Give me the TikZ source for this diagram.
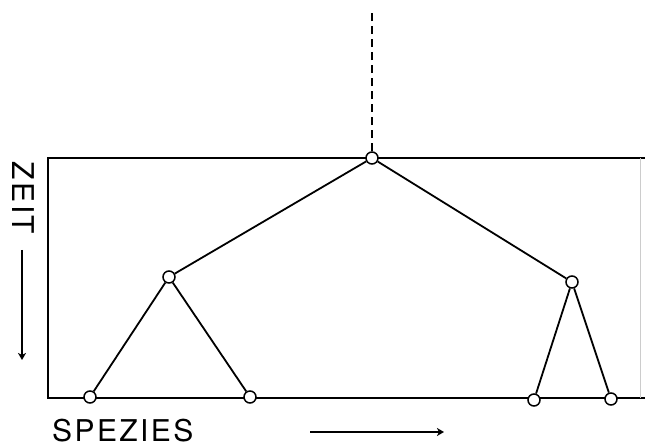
\documentclass[tikz,border=0pt]{standalone}
\usepackage{fontspec}
\usetikzlibrary{arrows.meta}
\newfontfamily\labelfont[LetterSpace=8]{TeX Gyre Heros}

\begin{document}
\begin{tikzpicture}[x=1pt,y=-1pt,>={Stealth[length=7pt,width=8pt,inset=2pt]},
  knot/.style={circle,draw,fill=white,line width=1.5pt,inner sep=0pt,minimum size=12pt},
  branch/.style={line width=1.8pt},
  frame/.style={line width=2.1pt},
  axislabel/.style={font=\labelfont\fontsize{30}{33}\selectfont,inner sep=0pt}]
\useasboundingbox (0,0) rectangle (645,446);
% Rahmen
\draw[frame] (645,158) -- (48,158) -- (48,398) -- (645,398);
\draw[black!20,thin] (640,158) -- (640,398);
% Baum
\coordinate (top) at (372,10);
\node[knot] (r) at (372,158) {};
\node[knot] (a) at (169,277) {};
\node[knot] (b) at (572,282) {};
\node[knot] (a1) at (90,397) {};
\node[knot] (a2) at (250,397) {};
\node[knot] (b1) at (534,400) {};
\node[knot] (b2) at (611,399) {};
\draw[branch,dashed,dash pattern=on 8pt off 5pt] (r) -- (top);
\draw[branch] (a) -- (r) -- (b);
\foreach \p/\c in {a/a1,a/a2,b/b1,b/b2} { \draw[branch] (\p) -- (\c); }
% Achsen
\node[axislabel,rotate=-90] (zeit) at (23,198) {ZEIT};
\coordinate (zeitend) at (22,360);
\draw[line width=1.6pt,->] (22,250) -- (zeitend);
\node[axislabel,anchor=base west] (spezies) at (52,441) {SPEZIES};
\coordinate (speziesend) at (444,432);
\draw[line width=1.6pt,->] (310,432) -- (speziesend);
\end{tikzpicture}
\end{document}
